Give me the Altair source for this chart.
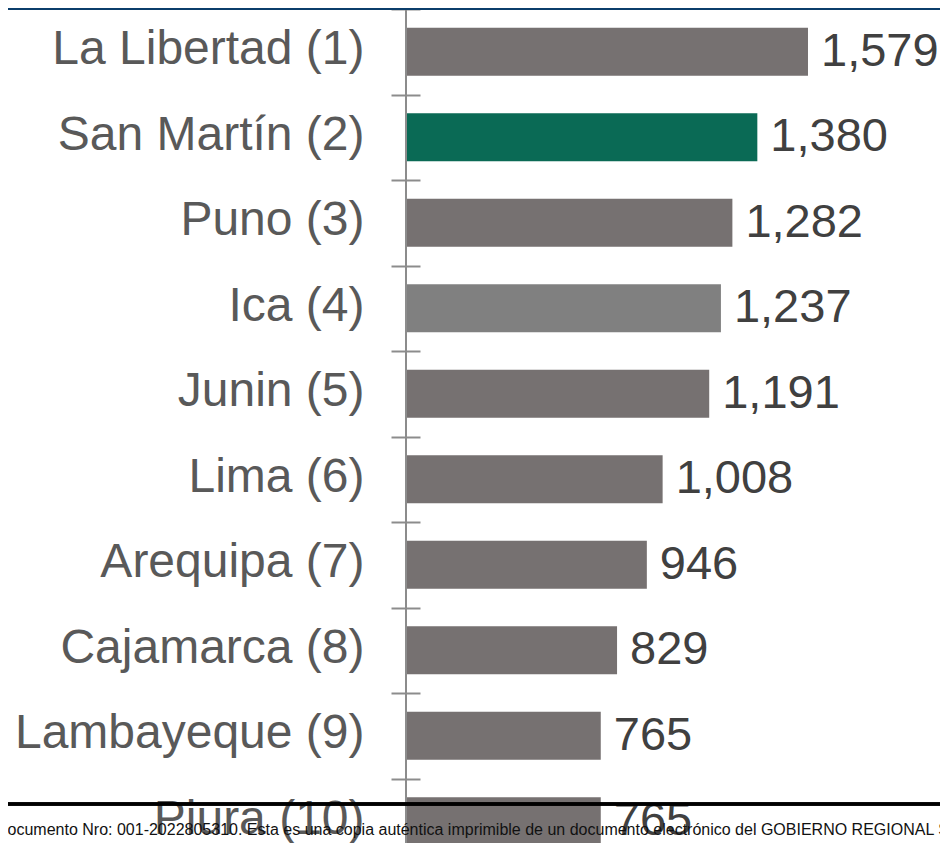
import altair as alt
import pandas as pd

categories = ["La Libertad (1)", "San Martín (2)", "Puno (3)", "Ica (4)", "Junin (5)",
              "Lima (6)", "Arequipa (7)", "Cajamarca (8)", "Lambayeque (9)", "Piura (10)"]
values = [1579, 1380, 1282, 1237, 1191, 1008, 946, 829, 765, 765]
bar_colors = ["#767171", "#0a6a55", "#767171", "#808080", "#767171",
              "#767171", "#767171", "#767171", "#767171", "#767171"]
footer_text = ("Documento Nro: 001-2022805310. Esta es una copia auténtica imprimible de un "
               "documento electrónico del GOBIERNO REGIONAL SAN MARTIN")

df = pd.DataFrame({"cat": categories, "v": values})

FONT = "Liberation Sans"

y_enc = alt.Y(
    "cat:N",
    sort=categories,
    scale=alt.Scale(paddingInner=0, paddingOuter=0),
    axis=alt.Axis(
        title=None, orient="left", domain=False, tickBand="extent",
        offset=-14, tickSize=29, tickWidth=2, tickColor="#8c8c8c",
        labelPadding=27, labelFont=FONT, labelFontSize=48, labelColor="#595959",
        labelLimit=500, labelOffset=-2,
    ),
)
x_enc = alt.X("v:Q", scale=alt.Scale(domain=[0, 2097.5], nice=False, zero=True), axis=None)

bars = alt.Chart(df).mark_bar(size=48).encode(
    y=y_enc, x=x_enc,
    color=alt.Color("cat:N", scale=alt.Scale(domain=categories, range=bar_colors), legend=None),
)

labels = alt.Chart(df).mark_text(
    align="left", baseline="middle", dx=13, fontSize=47, font=FONT, color="#404040"
).encode(y=alt.Y("cat:N", sort=categories), x="v:Q", text=alt.Text("v:Q", format=","))

axis_line = alt.Chart(df).mark_rule(color="#8c8c8c", strokeWidth=2).encode(x=alt.datum(0))

top_line = alt.Chart(df).mark_rule(color="#0b3d6b", strokeWidth=3).encode(
    x=alt.value(-398), x2=alt.value(534), y=alt.value(-0.5)
)

bottom_line = alt.Chart(df).mark_rule(color="#000000", strokeWidth=2.5).encode(
    x=alt.value(-398), x2=alt.value(534), y=alt.value(795)
)

footer = alt.Chart(pd.DataFrame({"t": [footer_text]})).mark_text(
    align="left", baseline="alphabetic", fontSize=16, font=FONT,
    color="#111111"
).encode(x=alt.value(-410), y=alt.value(826), text="t:N")

chart = alt.layer(bars, labels, axis_line, top_line, bottom_line, footer).properties(
    width=534, height=855,
    padding={"left": 398, "top": 1, "right": 0, "bottom": 0},
    autosize=alt.AutoSizeParams(type="none"),
    background="white",
).configure_view(stroke=None)

chart.save("out.html", embed_options={"renderer": "svg", "actions": False})
